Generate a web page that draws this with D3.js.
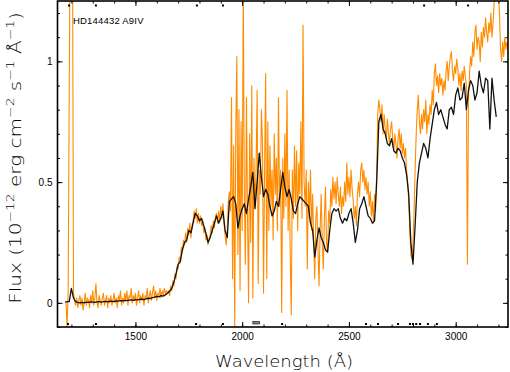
<!DOCTYPE html>
<html><head><meta charset="utf-8">
<script src="https://cdn.jsdelivr.net/npm/d3@7"></script>
<style>body{margin:0;background:#fff}svg{display:block}</style>
</head><body>
<svg id="c" width="510" height="372"></svg>
<script>
// ---------------- data ----------------
const xMajorTicks = [1500, 2000, 2500, 3000];
const xTickLabels = ["1500", "2000", "2500", "3000"];
const yMajorTicks = [0, 0.5, 1];
const yTickLabels = ["0", "0.5", "1"];
const starLabel = "HD144432 A9IV";

// black spectrum: start wavelength 1170 Å, 10 Å grid
const blackStart = 1170, blackStep = 10;
const blackFlux = [
  0.003,0.005,0.005,0.06,0.02,0.005,0.002,0.000,0.002,0.000,
  0.003,0.002,0.004,0.003,0.002,0.004,0.005,0.003,0.005,0.006,
  0.004,0.006,0.007,0.005,0.008,0.007,0.009,0.008,0.010,0.009,
  0.011,0.012,0.010,0.013,0.012,0.014,0.015,0.013,0.017,0.019,
  0.018,0.022,0.024,0.027,0.025,0.030,0.028,0.033,0.040,0.048,
  0.060,0.085,0.12,0.16,0.17,0.22,0.25,0.26,0.30,0.29,
  0.33,0.37,0.36,0.34,0.35,0.32,0.29,0.25,0.27,0.30,
  0.33,0.36,0.33,0.35,0.38,0.30,0.27,0.42,0.43,0.44,
  0.41,0.31,0.36,0.39,0.41,0.37,0.43,0.48,0.54,0.39,
  0.50,0.62,0.52,0.44,0.47,0.45,0.40,0.36,0.38,0.42,
  0.40,0.47,0.54,0.48,0.44,0.47,0.43,0.38,0.37,0.41,
  0.44,0.43,0.42,0.41,0.40,0.33,0.30,0.19,0.26,0.31,
  0.27,0.25,0.22,0.21,0.30,0.37,0.39,0.38,0.39,0.35,
  0.33,0.35,0.34,0.37,0.39,0.33,0.25,0.30,0.39,0.41,
  0.44,0.40,0.36,0.35,0.33,0.34,0.50,0.75,0.78,0.72,
  0.70,0.66,0.65,0.68,0.63,0.62,0.64,0.63,0.60,0.58,
  0.53,0.45,0.25,0.16,0.32,0.50,0.58,0.62,0.66,0.64,
  0.60,0.68,0.74,0.80,0.83,0.78,0.80,0.77,0.74,0.72,
  0.80,0.81,0.78,0.86,0.89,0.84,0.85,0.91,0.80,0.88,
  0.92,0.90,0.84,0.87,0.96,0.90,0.87,0.93,0.92,0.72,
  0.93,0.84,0.77
];

// orange spectrum: 5 Å grid, in segments with their own start wavelengths
const orangeStep = 5;
const orangeSegStarts = [1175, 1215, 1655, 1950, 2350, 2640];
const orangeLya = [0.00,-0.10,0.05,0.90,1.60,1.60,1.60,0.04];
const orangeFarUV = [
  0.01,-0.01,0.02,-0.02,0.01,0.03,-0.01,0.02,-0.03,0.00,
  0.04,-0.01,0.02,0.01,-0.02,0.03,0.00,0.05,-0.01,0.02,
  0.08,0.00,-0.02,0.03,0.01,-0.01,0.02,0.04,-0.01,0.01,
  0.03,-0.02,0.02,0.00,0.03,-0.01,0.01,0.04,0.00,0.02,
  -0.02,0.03,0.01,0.05,-0.01,0.02,0.00,0.04,0.01,0.05,
  -0.01,0.03,0.02,0.06,0.00,0.03,0.01,0.04,-0.01,0.02,
  0.05,0.00,0.03,0.01,0.04,-0.01,0.03,0.02,0.06,0.00,
  0.03,0.05,0.01,0.04,0.07,0.02,0.05,0.01,0.04,0.03,
  0.06,0.02,0.05,0.03,0.06,0.04,0.05,0.04
];
const orangeRise = [
  0.05,0.03,0.07,0.05,0.09,0.07,0.12,0.10,0.15,0.14,
  0.19,0.17,0.23,0.21,0.26,0.24,0.29,0.25,0.31,0.28,
  0.33,0.27,0.32,0.34,0.38,0.35,0.39,0.33,0.37,0.33,
  0.36,0.32,0.34,0.29,0.31,0.26,0.28,0.24,0.27,0.28,
  0.32,0.29,0.34,0.31,0.36,0.37,0.33,0.38,0.34,0.40,
  0.35,0.41,0.33,0.28,0.24,0.30,0.42,0.46,0.38
];
const orangeNoisy = [
  0.85,0.10,0.65,-0.10,0.70,1.02,0.20,0.80,0.05,0.75,
  0.30,1.30,0.45,0.16,0.85,0.35,0.00,0.70,0.25,0.90,
  0.02,0.60,0.40,0.55,0.88,0.08,0.55,0.45,0.80,0.67,
  0.04,0.55,0.95,0.10,0.75,0.30,0.65,0.40,0.55,0.26,
  0.70,0.45,0.60,0.30,0.85,0.40,0.55,-0.04,0.60,0.35,
  0.70,0.40,0.88,0.30,0.55,0.20,-0.05,0.55,0.35,0.65,
  0.40,0.63,0.30,0.58,0.45,0.75,0.35,1.15,0.50,0.40,
  0.55,0.14,0.50,0.35,0.55,0.30,0.45,0.25,0.10,0.35
];
const orangeMid = [
  0.40,0.22,0.07,0.30,0.45,0.25,0.14,0.35,0.48,0.25,
  0.21,0.38,0.33,0.47,0.40,0.52,0.43,0.50,0.41,0.52,
  0.45,0.40,0.48,0.37,0.44,0.40,0.50,0.42,0.58,0.45,
  0.52,0.44,0.55,0.47,0.42,0.35,0.40,0.32,0.45,0.50,
  0.44,0.55,0.58,0.50,0.55,0.47,0.52,0.45,0.50,0.40,
  0.46,0.36,0.42,0.33,0.45,0.38,0.55,0.78
];
const orangeLong = [
  0.84,0.80,0.75,0.82,0.70,0.78,0.72,0.68,0.76,0.70,
  0.66,0.72,0.75,0.68,0.63,0.70,0.66,0.60,0.68,0.72,
  0.64,0.70,0.62,0.66,0.60,0.64,0.55,0.50,0.42,0.30,
  0.20,0.18,0.25,0.38,0.55,0.70,0.80,0.86,0.75,0.70,
  0.78,0.72,0.80,0.75,0.84,0.70,0.78,0.74,0.82,0.78,
  0.88,0.82,0.95,0.99,0.90,0.94,0.87,0.95,0.90,0.93,
  0.86,0.92,0.88,0.96,1.00,0.92,0.98,1.02,1.04,0.96,
  0.92,0.98,0.95,1.01,0.97,0.90,0.95,0.88,0.96,0.92,
  0.98,0.94,0.90,0.16,0.85,0.95,1.02,0.98,1.08,1.02,
  1.12,1.15,1.05,1.10,1.08,1.00,1.12,1.06,1.14,1.10,
  1.18,1.12,1.08,1.16,1.12,1.20,1.10,1.16,1.24,1.30,
  1.35,1.28,1.30,1.20,1.05,1.00,1.08,1.02,1.10,1.05,1.08,1.06
];
const orangeSegments = [orangeLya, orangeFarUV, orangeRise, orangeNoisy, orangeMid, orangeLong];

// quality-flag wavelengths marked along the axes
const bottomFlags = [1184, 1315, 1784, 1910, 2187, 2580, 2636, 2730, 2786, 2800, 2815, 2833, 2870, 2912];
const bottomFlagBand = [2050, 2082];
const topFlags = [1189, 1315, 1788, 1910, 2852, 3058];

// ---------------- layout ----------------
const L = 57.5, R = 508, T = 1, B = 327;
const svg = d3.select("#c");

const x = d3.scaleLinear().domain([1135, 3245]).range([L, R]);
const y = d3.scaleLinear().domain([-0.1, 1.25]).range([B, T]);

const blackData = blackFlux.map((v, i) => [blackStart + i * blackStep, v]);
const orangeData = [];
orangeSegments.forEach((seg, k) => seg.forEach((v, i) => orangeData.push([orangeSegStarts[k] + i * orangeStep, v])));

svg.append("defs").append("clipPath").attr("id", "clip")
  .append("rect").attr("x", L).attr("y", T).attr("width", R - L).attr("height", B - T);

const line = d3.line().x(d => x(d[0])).y(d => y(d[1]));
const plot = svg.append("g").attr("clip-path", "url(#clip)");
plot.append("path").datum(orangeData).attr("d", line)
  .attr("fill", "none").attr("stroke", "#ff8c00").attr("stroke-width", 1.1).attr("stroke-linejoin", "round");
plot.append("path").datum(blackData).attr("d", line)
  .attr("fill", "none").attr("stroke", "#111").attr("stroke-width", 1.3).attr("stroke-linejoin", "round");

// flags
const flags = svg.append("g").attr("fill", "#000");
flags.selectAll("rect.b").data(bottomFlags).join("rect").attr("class", "b")
  .attr("x", d => x(d) - 1).attr("y", B - 4).attr("width", 2).attr("height", 2);
flags.selectAll("rect.t").data(topFlags).join("rect").attr("class", "t")
  .attr("x", d => x(d) - 1).attr("y", T + 3.5).attr("width", 2).attr("height", 2);
svg.append("rect").attr("x", x(bottomFlagBand[0])).attr("y", B - 5.5)
  .attr("width", x(bottomFlagBand[1]) - x(bottomFlagBand[0])).attr("height", 2.5)
  .attr("fill", "#888").attr("stroke", "#000").attr("stroke-width", 0.6);

// axes
const fontTick = "'Liberation Sans', Arial, Helvetica, sans-serif";
const xMinor = d3.range(1200, 3245, 100);
const yMinor = d3.range(-0.1, 1.25, 0.1).map(v => +v.toFixed(2));

function styleAxis(g) {
  g.select(".domain").remove();
  g.selectAll("line").attr("stroke", "#000").attr("stroke-width", 1);
  g.selectAll("text").attr("font-family", fontTick).attr("font-size", 10).attr("fill", "#000");
}
svg.append("g").attr("transform", `translate(0,${B})`)
  .call(d3.axisBottom(x).tickValues(xMinor).tickSize(-2.5).tickFormat("")).call(styleAxis);
svg.append("g").attr("transform", `translate(0,${B})`)
  .call(d3.axisBottom(x).tickValues(xMajorTicks).tickSize(-5).tickPadding(6)
    .tickFormat((d, i) => xTickLabels[i])).call(styleAxis);
svg.append("g").attr("transform", `translate(0,${T})`)
  .call(d3.axisTop(x).tickValues(xMinor).tickSize(-2.5).tickFormat("")).call(styleAxis);
svg.append("g").attr("transform", `translate(0,${T})`)
  .call(d3.axisTop(x).tickValues(xMajorTicks).tickSize(-5).tickFormat("")).call(styleAxis);
svg.append("g").attr("transform", `translate(${L},0)`)
  .call(d3.axisLeft(y).tickValues(yMinor).tickSize(-2.5).tickFormat("")).call(styleAxis);
svg.append("g").attr("transform", `translate(${L},0)`)
  .call(d3.axisLeft(y).tickValues(yMajorTicks).tickSize(-5).tickPadding(5)
    .tickFormat((d, i) => yTickLabels[i])).call(styleAxis);
svg.append("g").attr("transform", `translate(${R},0)`)
  .call(d3.axisRight(y).tickValues(yMinor).tickSize(-2.5).tickFormat("")).call(styleAxis);
svg.append("g").attr("transform", `translate(${R},0)`)
  .call(d3.axisRight(y).tickValues(yMajorTicks).tickSize(-5).tickFormat("")).call(styleAxis);

svg.append("rect").attr("x", L).attr("y", T).attr("width", R - L).attr("height", B - T)
  .attr("fill", "none").attr("stroke", "#000").attr("stroke-width", 1.6);

// star label
svg.append("text").attr("x", 73).attr("y", 24).text(starLabel)
  .attr("font-family", fontTick).attr("font-size", 9.5).attr("letter-spacing", 0.2).attr("fill", "#000");

// titles
const fontTitle = "'DejaVu Sans', sans-serif";
function fitText(g, target) {
  const w = g.select("text").node().getComputedTextLength();
  return target / w;
}
// x title
const gx = svg.append("g");
gx.append("text").attr("font-family", fontTitle).attr("font-size", 16).attr("font-weight", 300)
  .attr("fill", "#000").attr("text-anchor", "middle").text("Wavelength (Å)");
const sx = fitText(gx, 138);
gx.attr("transform", `translate(284,367) scale(${sx},1)`);

// y title
const gy = svg.append("g");
const ty = gy.append("text").attr("font-family", fontTitle).attr("font-size", 16).attr("font-weight", 300)
  .attr("fill", "#000").attr("text-anchor", "middle");
const parts = [["Flux (10", 0], ["−12", 1], [" erg cm", 0], ["−2", 1], [" s", 0], ["−1", 1], [" Å", 0], ["−1", 1], [")", 0]];
let prevSup = 0;
parts.forEach(([s, sup]) => {
  const sp = ty.append("tspan").text(s).attr("font-size", sup ? 11 : 16);
  const dy = (sup ? -7 : 0) - (prevSup ? -7 : 0);
  if (dy) sp.attr("dy", dy);
  prevSup = sup;
});
const sy = fitText(gy, 292);
gy.attr("transform", `translate(21,158) rotate(-90) scale(${sy},1)`);
</script>
</body></html>
